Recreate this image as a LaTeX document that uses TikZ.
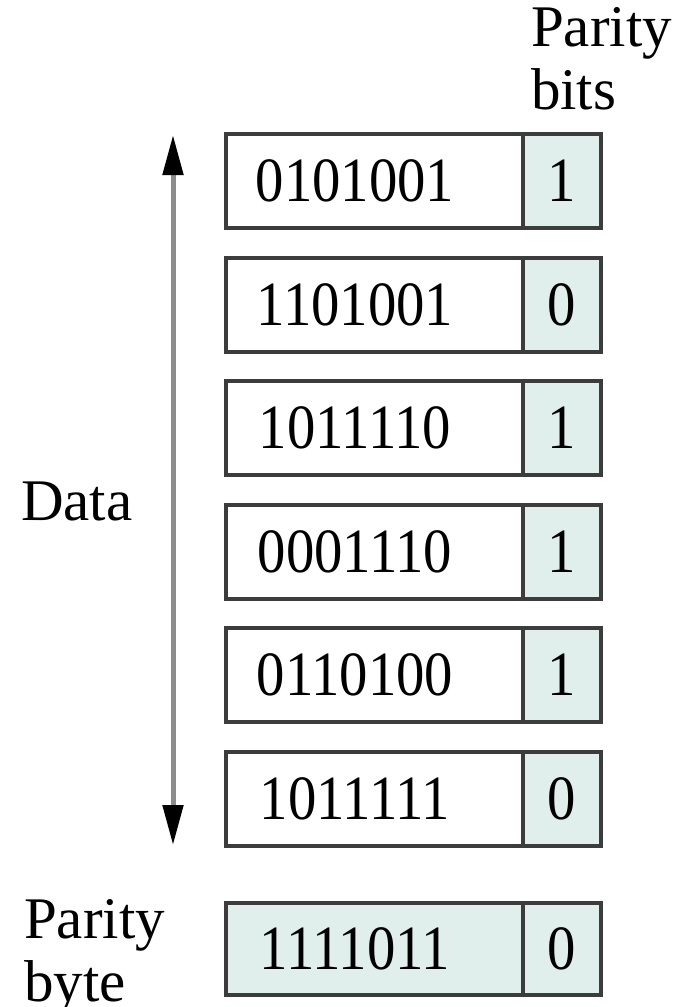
\documentclass[tikz,border=0pt]{standalone}
\usepackage{fontspec}
\setmainfont{Liberation Serif}
\usetikzlibrary{arrows.meta}
\definecolor{cellfill}{HTML}{E0EEEC}
\definecolor{edge}{HTML}{3C3C3C}
\definecolor{shaft}{HTML}{8C8C8C}
\newcommand{\digits}[1]{\scalebox{0.9}[1]{#1}}
\tikzset{
  every node/.style={inner sep=0pt, outer sep=0pt},
  txt/.style={font=\fontsize{59}{63}\selectfont, text=black},
  num/.style={font=\fontsize{63}{63}\selectfont, text=black},
  datacell/.style={draw=edge, line width=3.5pt, fill=white,
    minimum width=297pt, minimum height=94pt, anchor=north west},
  paritycell/.style={draw=edge, line width=3.5pt, fill=cellfill,
    minimum width=78pt, minimum height=94pt, anchor=north west},
  bytecell/.style={datacell, fill=cellfill, minimum height=92pt},
  bytebit/.style={paritycell, minimum height=92pt},
}
\begin{document}
\begin{tikzpicture}[x=1pt, y=-1pt]
  \useasboundingbox (0,0) rectangle (683,1007);

  % data words with their parity bits
  \foreach \i/\top/\word/\bit in {1/134/0101001/1, 2/258/1101001/0,
      3/381/1011110/1, 4/505/0001110/1, 5/628/0110100/1, 6/752/1011111/0} {
    \node[datacell] (w\i) at (226,\top) {};
    \node[paritycell] (p\i) at (523,\top) {};
    \node[num] (wt\i) at ([xshift=-19.5pt]w\i.center) {\digits{\word}};
    \node[num] (pt\i) at (p\i.center) {\digits{\bit}};
  }

  % parity byte
  \node[bytecell] (wb) at (226,903) {};
  \node[bytebit] (pb) at (523,903) {};
  \node[num] (wbt) at ([xshift=-19.5pt]wb.center) {\digits{1111011}};
  \node[num] (pbt) at (pb.center) {\digits{0}};

  % span of the data words
  \coordinate (top) at (173,135);
  \coordinate (bot) at (173,845);
  \draw[shaft, line width=5pt,
        {Triangle[length=40pt,width=20pt,color=black]}-{Triangle[length=40pt,width=20pt,color=black]}]
        (top) -- (bot);

  % labels
  \node[txt, anchor=base west] (data) at (21,520) {Data};
  \node[txt, anchor=north west, align=left] (pbits) at (531,7) {Parity\\bits};
  \node[txt, anchor=north west, align=left] (pbyte) at (24,899) {Parity\\byte};
\end{tikzpicture}
\end{document}
